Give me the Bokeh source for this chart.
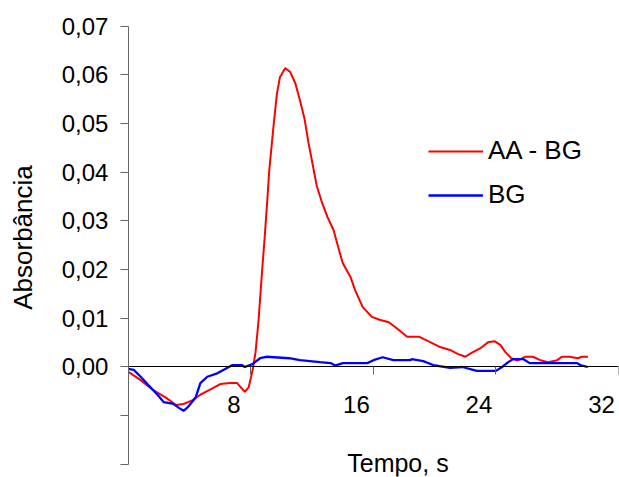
import math
from bokeh.plotting import figure
from bokeh.models import (Range1d, LinearAxis, FixedTicker, CustomJSTickFormatter,
                          Label, ColumnDataSource)
from bokeh.core.properties import value
from bokeh.embed import file_html
from bokeh.resources import INLINE

# ---- data ----
time_aa = [0, 0.8, 1.6, 2.5, 3.1, 3.6, 4.2, 4.7, 5.3, 6.0, 6.65, 7.1, 7.6, 7.85, 8.0,
           8.15, 8.3, 8.5, 8.7, 8.9, 9.07, 9.2, 9.47, 9.7, 9.9, 10.24, 10.57, 10.9,
           11.2, 11.5, 11.75, 12.07, 12.3, 12.65, 13.0, 13.4, 13.7, 14.0, 14.5, 14.8,
           15.3, 15.9, 16.4, 17.0, 17.5, 18.2, 19.0, 19.7, 20.35, 21.0, 21.5, 22.0,
           22.4, 23.0, 23.5, 23.9, 24.3, 24.6, 25.0, 25.4, 25.9, 26.4, 26.9, 27.4,
           28.0, 28.3, 28.8, 29.35, 29.6, 30.0]
abs_aa = [-0.0010, -0.0027, -0.0047, -0.0064, -0.0078, -0.0076, -0.0068, -0.0057,
          -0.0047, -0.0035, -0.0033, -0.0033, -0.0051, -0.0042, -0.0022, 0.0000,
          0.0030, 0.0096, 0.0185, 0.0267, 0.0343, 0.0405, 0.0493, 0.0562, 0.0596,
          0.0614, 0.0606, 0.0583, 0.0548, 0.0510, 0.0462, 0.0410, 0.0372, 0.0337,
          0.0308, 0.0281, 0.0246, 0.0213, 0.0185, 0.0158, 0.0123, 0.0103, 0.0097,
          0.0092, 0.0080, 0.0062, 0.0062, 0.0051, 0.0041, 0.0035, 0.0027, 0.0021,
          0.0029, 0.0039, 0.0051, 0.0053, 0.0045, 0.0031, 0.0018, 0.0013, 0.0021,
          0.0021, 0.0014, 0.0010, 0.0014, 0.0021, 0.0021, 0.0018, 0.0021, 0.0021]

time_bg = [0, 0.35, 0.8, 1.3, 1.9, 2.3, 2.95, 3.3, 3.6, 3.9, 4.4, 4.7, 5.15, 5.8, 6.2,
           6.8, 7.4, 7.6, 8.1, 8.6, 9.0, 9.5, 10.5, 11.2, 12.5, 13.2, 13.5, 14.0,
           15.6, 16.0, 16.6, 17.3, 18.4, 18.5, 19.25, 19.9, 21.0, 21.8, 22.75, 24.0,
           24.4, 24.8, 25.1, 25.8, 26.2, 27.1, 29.3, 29.5, 30.0]
abs_bg = [-0.0004, -0.0006, -0.0020, -0.0037, -0.0057, -0.0072, -0.0076, -0.0084,
          -0.0090, -0.0082, -0.0062, -0.0033, -0.0020, -0.0013, -0.0006, 0.0004,
          0.0004, 0.0000, 0.0006, 0.0018, 0.0021, 0.0020, 0.0018, 0.0014, 0.0010,
          0.0008, 0.0003, 0.0008, 0.0008, 0.0014, 0.0020, 0.0014, 0.0014, 0.0016,
          0.0012, 0.0004, -0.0002, 0.0000, -0.0008, -0.0008, 0.0000, 0.0010, 0.0016,
          0.0016, 0.0008, 0.0008, 0.0008, 0.0004, 0.0000]

series_names = ["AA - BG", "BG"]
x_ticks = [8, 16, 24, 32]
x_tick_labels = ["8", "16", "24", "32"]
y_ticks = [-0.02, -0.01, 0.00, 0.01, 0.02, 0.03, 0.04, 0.05, 0.06, 0.07]
y_tick_labels = ["", "", "0,00", "0,01", "0,02", "0,03", "0,04", "0,05", "0,06", "0,07"]
x_title = "Tempo, s"
y_title = "Absorbância"

FONT = "Liberation Sans"

# the frame covers the whole page; both axes cross at the origin
p = figure(width=619, height=477, output_backend="svg", toolbar_location=None,
           x_range=Range1d(-8.35, 32), y_range=Range1d(-0.0225, 0.0753),
           x_axis_location=None, y_axis_location=None,
           min_border_left=0, min_border_right=1, min_border_top=0,
           min_border_bottom=1)
p.outline_line_color = None
p.grid.visible = False
p.background_fill_color = "white"
p.border_fill_color = "white"

# y axis at x = 0
ya = LinearAxis(fixed_location=0, ticker=FixedTicker(ticks=y_ticks),
                bounds=(y_ticks[0], y_ticks[-1]))
ya.formatter = CustomJSTickFormatter(
    args=dict(yt=y_ticks, yl=y_tick_labels),
    code="const i = yt.findIndex(t => Math.abs(t - tick) < 1e-9); return i >= 0 ? yl[i] : '';")
ya.minor_tick_line_color = None
ya.major_tick_in = 0
ya.major_tick_out = 8
ya.axis_line_color = "#666666"
ya.major_tick_line_color = "#666666"
ya.major_label_text_font = FONT
ya.major_label_text_font_size = "24px"
ya.major_label_text_color = "black"
ya.major_label_standoff = 12
p.add_layout(ya, "left")

# x axis at y = 0
xa = LinearAxis(fixed_location=0, ticker=FixedTicker(ticks=x_ticks), bounds=(0, 32))
xa.minor_tick_line_color = None
xa.major_tick_in = 0
xa.major_tick_out = 8
xa.axis_line_color = "black"
xa.major_tick_line_color = "#666666"
xa.major_label_text_color = None
p.add_layout(xa, "below")

# x tick labels (placed as in the reference, below the zero line)
src_ticks = ColumnDataSource(dict(x=x_ticks, y=[0] * len(x_ticks), t=x_tick_labels))
p.text(x="x", y="y", text="t", source=src_ticks, x_offset=-17, y_offset=38,
       text_align="center", text_baseline="middle",
       text_font=value(FONT), text_font_size="24px", text_color="black")

# axis titles
p.add_layout(Label(x=17.6, y=-0.0197, text=x_title, text_align="center",
                   text_baseline="middle", text_font=FONT, text_font_size="25px",
                   text_color="black"))
p.add_layout(Label(x=-6.9, y=0.0266, text=y_title, angle=math.pi / 2,
                   text_align="center", text_baseline="middle", text_font=FONT,
                   text_font_size="26px", text_color="black"))

p.line(time_aa, abs_aa, line_color="#FF0000", line_width=2, legend_label=series_names[0])
p.line(time_bg, abs_bg, line_color="#0000FF", line_width=2.3, legend_label=series_names[1])

lg = p.legend[0]
lg.location = (428, 266)
lg.border_line_color = None
lg.background_fill_alpha = 0
lg.padding = 0
lg.margin = 0
lg.glyph_width = 55
lg.glyph_height = 20
lg.label_height = 20
lg.spacing = 13
lg.label_standoff = 5
lg.label_text_font = FONT
lg.label_text_font_size = "26px"
lg.label_text_color = "black"

open("out.html", "w").write(file_html(p, INLINE))
